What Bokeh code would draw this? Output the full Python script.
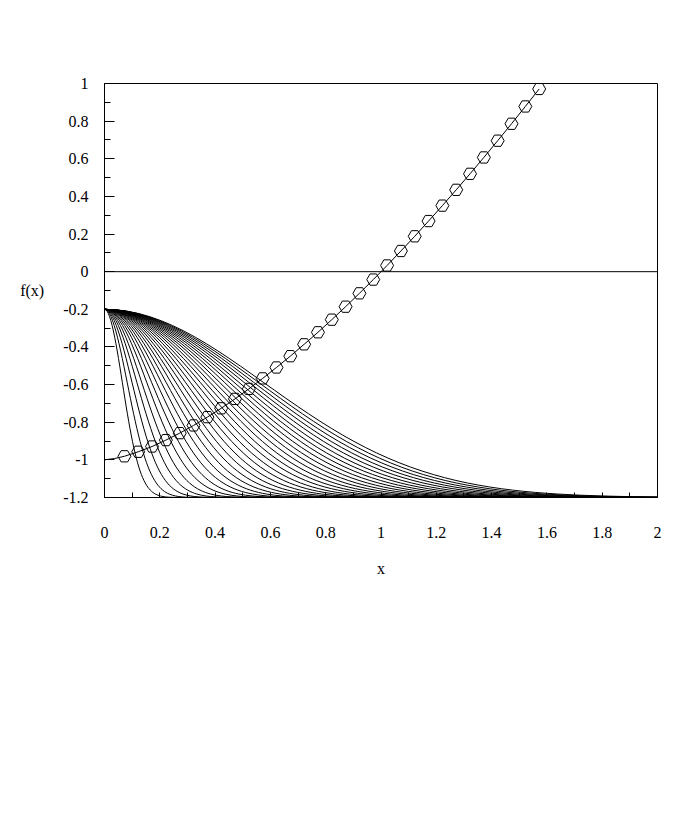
import numpy as np
from bokeh.plotting import figure
from bokeh.models import Range1d, Span, FixedTicker, CustomJSTickFormatter
from bokeh.embed import file_html
from bokeh.resources import INLINE

# ---- data ----
# rising curve with hexagon markers
mark_x = [0.072, 0.122, 0.172, 0.222, 0.272, 0.322, 0.372, 0.422, 0.472, 0.522,
          0.572, 0.622, 0.672, 0.722, 0.772, 0.822, 0.872, 0.922, 0.972, 1.022,
          1.072, 1.122, 1.172, 1.222, 1.272, 1.322, 1.372, 1.422, 1.472, 1.522, 1.572]
mark_y = [-0.981, -0.957, -0.929, -0.895, -0.858, -0.817, -0.773, -0.726, -0.676, -0.623,
          -0.567, -0.509, -0.449, -0.386, -0.322, -0.255, -0.186, -0.115, -0.042, 0.033,
          0.110, 0.188, 0.269, 0.351, 0.435, 0.520, 0.607, 0.696, 0.786, 0.878, 0.971]
line_start_x = [0.0, 0.036]
line_start_y = [-1.0, -0.993]

# family of bell curves: common profile (fraction of drop) vs normalized distance
profile_u = [0.00, 0.05, 0.10, 0.15, 0.20, 0.25, 0.30, 0.35, 0.40, 0.45, 0.50, 0.55,
             0.60, 0.65, 0.70, 0.75, 0.80, 0.85, 0.90, 0.95, 1.00, 1.05, 1.10, 1.15,
             1.20, 1.25, 1.30, 1.35, 1.40, 1.45, 1.50, 1.55, 1.60, 1.65, 1.70, 1.75,
             1.80, 1.85, 1.90, 1.95, 2.00, 2.10, 2.20, 2.30, 2.40, 2.50, 2.70, 3.00]
profile_v = [1.0000, 0.9975, 0.9900, 0.9778, 0.9608, 0.9394, 0.9139, 0.8847, 0.8521,
             0.8167, 0.7788, 0.7390, 0.6977, 0.6554, 0.6126, 0.5698, 0.5273, 0.4855,
             0.4449, 0.4056, 0.3679, 0.3320, 0.2982, 0.2665, 0.2369, 0.2096, 0.1845,
             0.1616, 0.1409, 0.1222, 0.1054, 0.0905, 0.0773, 0.0657, 0.0556, 0.0468,
             0.0392, 0.0326, 0.0271, 0.0223, 0.0183, 0.0122, 0.0079, 0.0050, 0.0032,
             0.0019, 0.0007, 0.0001]
curve_widths = [0.092, 0.117, 0.142, 0.167, 0.192, 0.218, 0.243, 0.268, 0.293, 0.318,
                0.343, 0.368, 0.393, 0.418, 0.443, 0.469, 0.494, 0.519, 0.544, 0.569,
                0.594, 0.619, 0.644, 0.669, 0.694, 0.720, 0.745, 0.770, 0.795, 0.820]
curve_top = -0.2
curve_bottom = -1.2
x_end = 2.0

x_major = [0.0, 0.2, 0.4, 0.6, 0.8, 1.0, 1.2, 1.4, 1.6, 1.8, 2.0]
x_minor = [0.1, 0.3, 0.5, 0.7, 0.9, 1.1, 1.3, 1.5, 1.7, 1.9]
y_major = [-1.2, -1.0, -0.8, -0.6, -0.4, -0.2, 0.0, 0.2, 0.4, 0.6, 0.8, 1.0]
y_minor = [-1.1, -0.9, -0.7, -0.5, -0.3, -0.1, 0.1, 0.3, 0.5, 0.7, 0.9]

# ---- figure ----
FONT = "Liberation Serif"
p = figure(width=680, height=610, output_backend="svg", toolbar_location=None,
           x_range=Range1d(0, 2), y_range=Range1d(-1.2, 1),
           min_border_left=104, min_border_right=23, min_border_top=83, min_border_bottom=113)
p.background_fill_color = "white"
p.border_fill_color = "white"
p.outline_line_color = "black"
p.outline_line_width = 1
p.grid.visible = False

xs, ys = [], []
pu = np.array(profile_u)
pv = np.array(profile_v)
for w in curve_widths:
    cx = list(pu * w) + [x_end]
    cy = list(curve_bottom + (curve_top - curve_bottom) * pv) + [curve_bottom]
    xs.append(cx)
    ys.append(cy)
p.multi_line(xs=xs, ys=ys, line_color="black", line_width=1)

p.add_layout(Span(location=0, dimension="width", line_color="black", line_width=1))

p.line(line_start_x + mark_x, line_start_y + mark_y, line_color="black", line_width=1)
p.scatter(mark_x, mark_y, marker="hex", size=13, fill_color=None, line_color="black", line_width=1)

fmt = CustomJSTickFormatter(code="return (Math.round(tick*10)/10).toString();")

xa = p.xaxis[0]
xa.ticker = FixedTicker(ticks=x_major, minor_ticks=x_minor)
xa.formatter = fmt
xa.major_tick_in = 5
xa.major_tick_out = 0
xa.minor_tick_in = 5
xa.minor_tick_out = 0
xa.major_label_standoff = 29
xa.axis_label = "x"
xa.axis_label_standoff = 19

ya = p.yaxis[0]
ya.ticker = FixedTicker(ticks=y_major, minor_ticks=y_minor)
ya.formatter = fmt
ya.major_tick_in = 10
ya.major_tick_out = 0
ya.minor_tick_in = 6
ya.minor_tick_out = 0
ya.major_label_standoff = 16
ya.axis_label = "f(x)"
ya.axis_label_orientation = "horizontal"
ya.axis_label_standoff = 16

for ax in (xa, ya):
    ax.axis_line_color = "black"
    ax.major_tick_line_color = "black"
    ax.minor_tick_line_color = "black"
    ax.major_label_text_font = FONT
    ax.major_label_text_font_size = "16px"
    ax.major_label_text_color = "black"
    ax.axis_label_text_font = FONT
    ax.axis_label_text_font_size = "16px"
    ax.axis_label_text_font_style = "normal"
    ax.axis_label_text_color = "black"

open("out.html", "w").write(file_html(p, INLINE))
